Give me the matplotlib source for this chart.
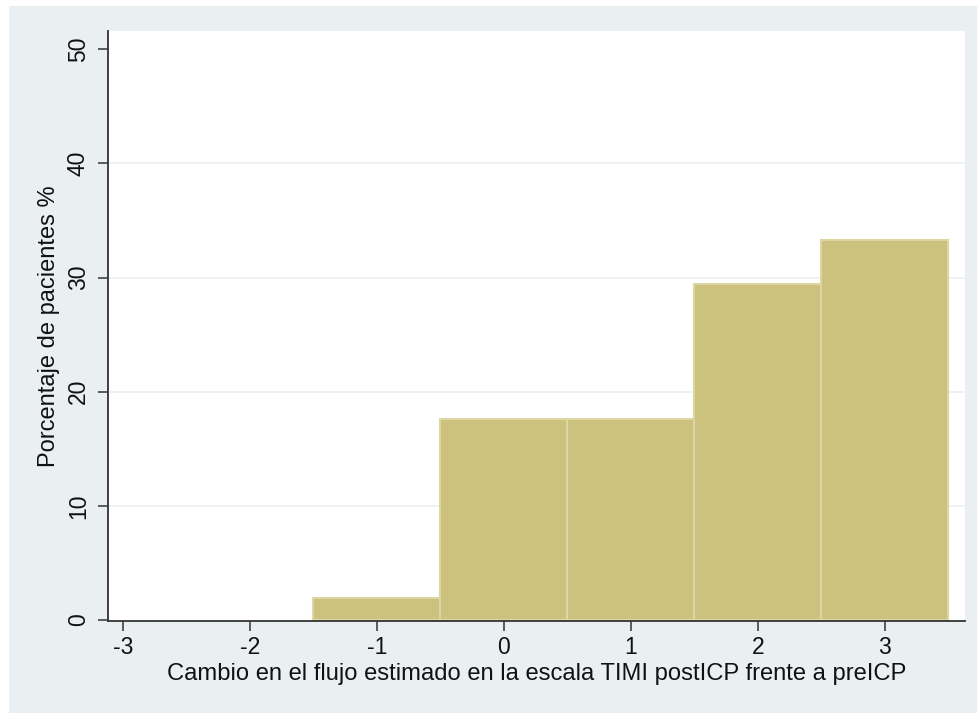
import matplotlib
matplotlib.use("Agg")
import matplotlib.pyplot as plt
from matplotlib.patches import Rectangle

# Change in estimated TIMI flow grade (post-PCI minus pre-PCI), share of patients
cambio = [-1, 0, 1, 2, 3]
porcentaje = [1.96, 17.65, 17.65, 29.41, 33.33]
xticks = [-3, -2, -1, 0, 1, 2, 3]
yticks = [0, 10, 20, 30, 40, 50]

plt.rcParams["font.family"] = ["Liberation Sans", "DejaVu Sans"]

W, H = 977, 713
fig = plt.figure(figsize=(W / 100, H / 100), dpi=100, facecolor="white")

# light graph-region background with a thin white margin at top and left
bg = Rectangle((9 / W, 0), 1 - 9 / W, (H - 6) / H,
               transform=fig.transFigure, facecolor="#EAF0F2",
               edgecolor="none", zorder=-10)
fig.add_artist(bg)

ax = fig.add_axes([108 / W, (H - 621) / H, (965 - 108) / W, (621 - 31) / H])
ax.set_zorder(1)
ax.set_facecolor("white")

ax.bar(cambio, porcentaje, width=1.0, color="#CCC27E",
       edgecolor="#DDD6A2", linewidth=1.5, zorder=2)

ax.set_xlim(-3.116, 3.63)
ax.set_ylim(-0.09, 51.6)
ax.set_xticks(xticks)
ax.set_yticks(yticks)
ax.set_xticklabels([str(v) for v in xticks])
ax.set_yticklabels([str(v) for v in yticks], rotation=90, va="center")

for y in yticks[1:-1]:
    ax.axhline(y, color="#EAF0F2", linewidth=1.2, zorder=1)

for side in ("top", "right"):
    ax.spines[side].set_visible(False)
for side in ("left", "bottom"):
    ax.spines[side].set_color("#333333")
    ax.spines[side].set_linewidth(1.3)

ax.tick_params(axis="both", direction="out", length=7, width=1.1,
               color="#333333", labelsize=16.5, labelcolor="#111111")
ax.tick_params(axis="x", pad=4)
ax.tick_params(axis="y", pad=6)

ax.set_xlabel("Cambio en el flujo estimado en la escala TIMI postICP frente a preICP",
              fontsize=17.1, color="#111111", labelpad=3)
ax.set_ylabel("Porcentaje de pacientes %", fontsize=17, color="#111111",
              labelpad=5)

fig.savefig("out.png", dpi=100, facecolor=fig.get_facecolor())
